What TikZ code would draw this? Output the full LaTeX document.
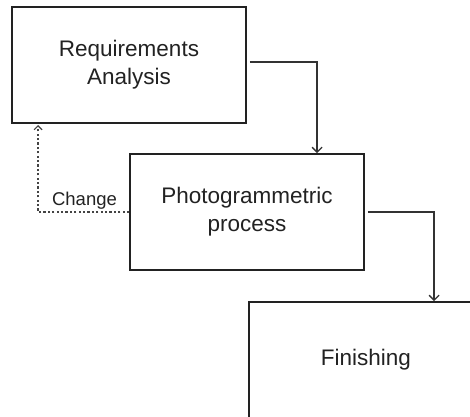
\documentclass[tikz,border=0pt]{standalone}
\usepackage{fontspec}
\setmainfont{Liberation Sans}
\usetikzlibrary{arrows.meta}
\definecolor{ink}{HTML}{222222}
\definecolor{wire}{HTML}{333333}
\definecolor{dotline}{HTML}{444444}
\tikzset{
  stagebox/.style={draw=ink, line width=1.8pt, fill=white, minimum width=234pt,
    minimum height=116pt, inner sep=0pt, text=ink, align=center,
    font=\fontsize{22.5}{28}\selectfont},
  flow/.style={draw=wire, line width=1.5pt, -{Straight Barb[length=5pt,width=10pt,line width=1.3pt]}},
  back/.style={draw=dotline, line width=1.6pt, dash pattern=on 2.2pt off 2.2pt,
    -{Straight Barb[length=4pt,width=8pt,line width=1.2pt]}},
  tag/.style={text=ink, font=\fontsize{18.5}{22}\selectfont, inner sep=0pt}
}
\begin{document}
\begin{tikzpicture}[x=1pt,y=1pt]
  \useasboundingbox (0,0) rectangle (470,-416);
  \clip (0,0) rectangle (470,-416);
  \fill[white] (0,0) rectangle (470,-416);

  % the three stages
  \node[stagebox] (req)    at (129,-65)  {Requirements\\Analysis};
  \node[stagebox] (photo)  at (247,-212) {Photogrammetric\\process};
  \node[stagebox] (finish) at (366,-360) {Finishing};

  % forward flow
  \draw[flow] ([xshift=3pt,yshift=3pt]req.east) -| ([xshift=188pt]photo.north west);
  \draw[flow] ([xshift=3pt]photo.east) -| ([xshift=186pt]finish.north west);

  % change loop back to the requirements
  \coordinate (bend) at ([xshift=27pt]req.south west |- photo.west);
  \draw[back] (photo.west) -- (bend) -- ([xshift=27pt,yshift=-1pt]req.south west);
  \node[tag] (chg) at (84.5,-201) {Change};
\end{tikzpicture}
\end{document}
